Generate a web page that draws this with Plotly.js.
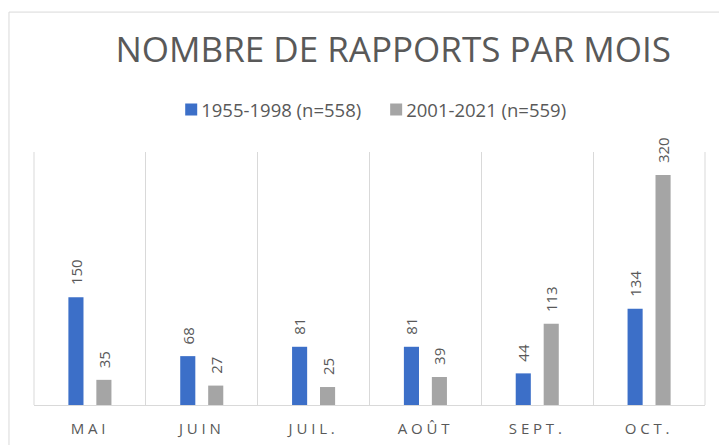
<!DOCTYPE html>
<html>
<head>
<meta charset="utf-8">
<script src="https://cdn.plot.ly/plotly-3.0.1.min.js"></script>
<style>
html,body{margin:0;padding:0;background:#fff;}
#chart{width:719px;height:445px;}
.xtick text{letter-spacing:3.8px;}
.legend .legendtext{transform:translateX(-10px);}
</style>
</head>
<body>
<div id="chart"></div>
<script>
const months = ["MAI", "JUIN", "JUIL.", "AOÛT", "SEPT.", "OCT."];
const seriesA = [150, 68, 81, 81, 44, 134];
const seriesB = [35, 27, 25, 39, 113, 320];
const nameA = "1955-1998 (n=558)";
const nameB = "2001-2021 (n=559)";
const colorA = "#3C6FC8";
const colorB = "#A5A5A5";
const textColor = "#595959";
const font = "Open Sans, Liberation Sans, sans-serif";

const traces = [
  {type: "bar", x: months, y: seriesA, name: nameA, marker: {color: colorA}, hoverinfo: "none"},
  {type: "bar", x: months, y: seriesB, name: nameB, marker: {color: colorB}, hoverinfo: "none"}
];

const annotations = [];
[[seriesA, -14], [seriesB, 14]].forEach(([vals, shift]) => {
  vals.forEach((v, i) => {
    annotations.push({
      x: months[i], y: v, xref: "x", yref: "y",
      text: String(v), showarrow: false, textangle: -90,
      xshift: shift, yshift: 10, yanchor: "bottom", xanchor: "center",
      font: {family: font, size: 15, color: textColor}
    });
  });
});

const layout = {
  width: 719, height: 445,
  margin: {l: 34, r: 14, t: 152, b: 40},
  paper_bgcolor: "#fff", plot_bgcolor: "#fff",
  title: {
    text: "NOMBRE DE RAPPORTS PAR MOIS",
    x: 0.547, xref: "container", xanchor: "center",
    y: 0.888, yref: "container", yanchor: "middle",
    font: {family: font, size: 35, color: textColor}
  },
  showlegend: true,
  legend: {
    orientation: "h", x: 0.51, xanchor: "center", y: 1.166, yanchor: "middle",
    font: {family: font, size: 18.5, color: textColor},
    itemwidth: 30, traceorder: "normal", bgcolor: "rgba(0,0,0,0)"
  },
  barmode: "group", bargap: 0.5, bargroupgap: 0.46,
  xaxis: {
    type: "category", tickson: "boundaries", showgrid: true, gridcolor: "#D9D9D9", gridwidth: 1,
    showline: true, linecolor: "#D9D9D9", linewidth: 1, ticks: "", ticklabelstandoff: 10,
    tickfont: {family: font, size: 15, color: textColor}, fixedrange: true
  },
  yaxis: {
    range: [0, 352], visible: false, showgrid: false, zeroline: false, fixedrange: true
  },
  shapes: [
    {type: "rect", xref: "paper", yref: "paper", x0: -0.0373, x1: 1.2, y0: -0.3, y1: 1.553,
     line: {color: "#D9D9D9", width: 1}, fillcolor: "rgba(0,0,0,0)", layer: "below"},
    {type: "line", xref: "paper", yref: "paper", x0: 0, x1: 0, y0: 0, y1: 1,
     line: {color: "#D9D9D9", width: 1}, layer: "below"},
    {type: "line", xref: "paper", yref: "paper", x0: 1, x1: 1, y0: 0, y1: 1,
     line: {color: "#D9D9D9", width: 1}, layer: "below"}
  ],
  annotations: annotations
};

Plotly.newPlot("chart", traces, layout, {displayModeBar: false, staticPlot: true});
</script>
</body>
</html>
